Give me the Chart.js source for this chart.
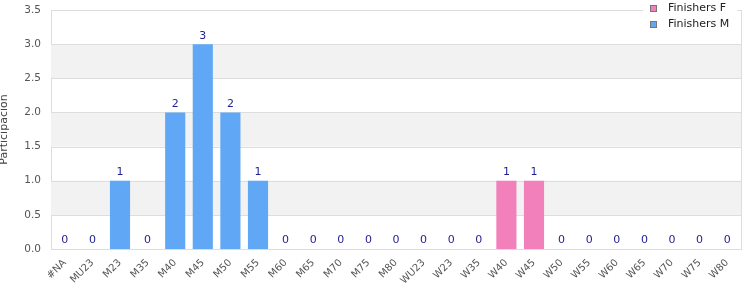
<!DOCTYPE html>
<html>
<head>
<meta charset="utf-8">
<script src="https://cdn.jsdelivr.net/npm/chart.js@4"></script>
<style>
  body { margin: 0; background: #fff; }
  #wrap { width: 750px; height: 300px; }
</style>
</head>
<body>
<div id="wrap"><canvas id="participationChart"></canvas></div>
<script>
// categories along the x axis
const categories = ["#NA", "MU23", "M23", "M35", "M40", "M45", "M50", "M55", "M60", "M65", "M70", "M75", "M80",
  "WU23", "W23", "W35", "W40", "W45", "W50", "W55", "W60", "W65", "W70", "W75", "W80"];

// finishers per category
const finishersF = [0, 0, 0, 0, 0, 0, 0, 0, 0, 0, 0, 0, 0, 0, 0, 0, 1, 1, 0, 0, 0, 0, 0, 0, 0];
const finishersM = [0, 0, 1, 0, 2, 3, 2, 1, 0, 0, 0, 0, 0, 0, 0, 0, 0, 0, 0, 0, 0, 0, 0, 0, 0];

const yTicks = [0, 0.5, 1, 1.5, 2, 2.5, 3, 3.5];

const FONT = "'DejaVu Sans', sans-serif";

// alternating grey bands behind the bars
const bandsPlugin = {
  id: "bands",
  beforeDatasetsDraw(chart) {
    const { ctx, chartArea, scales } = chart;
    const y = scales.y;
    ctx.save();
    ctx.fillStyle = "#f2f2f2";
    for (let i = 1; i < yTicks.length - 1; i += 2) {
      const top = y.getPixelForValue(yTicks[i + 1]);
      const bottom = y.getPixelForValue(yTicks[i]);
      ctx.fillRect(chartArea.left, top, chartArea.right - chartArea.left, bottom - top);
    }
    // grid lines over the bands
    ctx.strokeStyle = "#dddddd";
    ctx.lineWidth = 1;
    yTicks.forEach(function (t) {
      const py = Math.round(y.getPixelForValue(t)) + 0.5;
      ctx.beginPath();
      ctx.moveTo(chartArea.left, py);
      ctx.lineTo(chartArea.right, py);
      ctx.stroke();
    });
    ctx.beginPath();
    ctx.moveTo(Math.round(chartArea.right) + 0.5, chartArea.top);
    ctx.lineTo(Math.round(chartArea.right) + 0.5, chartArea.bottom);
    ctx.stroke();
    ctx.restore();
  },
};

// totals written above each category
const totalsPlugin = {
  id: "totals",
  afterDatasetsDraw(chart) {
    const { ctx, scales } = chart;
    ctx.save();
    ctx.font = "11px " + FONT;
    ctx.fillStyle = "#1f1f8f";
    ctx.textAlign = "center";
    ctx.textBaseline = "bottom";
    categories.forEach(function (c, i) {
      const total = finishersF[i] + finishersM[i];
      const px = scales.x.getPixelForValue(i);
      const py = scales.y.getPixelForValue(total);
      ctx.fillText(String(total), px, py - 3);
    });
    ctx.restore();
  },
};

// legend box in the top right corner
const legendPlugin = {
  id: "cornerLegend",
  afterDraw(chart) {
    const { ctx } = chart;
    const items = [["Finishers F", "#f281bb"], ["Finishers M", "#60a8f5"]];
    ctx.save();
    ctx.fillStyle = "#ffffff";
    ctx.fillRect(643, 0, 94, 34);
    ctx.font = "11px " + FONT;
    ctx.textBaseline = "middle";
    items.forEach(function (it, i) {
      const y = 8 + i * 16;
      ctx.fillStyle = it[1];
      ctx.fillRect(650, y - 3, 6, 6);
      ctx.strokeStyle = "#777";
      ctx.lineWidth = 1;
      ctx.strokeRect(650.5, y - 2.5, 6, 6);
      ctx.fillStyle = "#222";
      ctx.fillText(it[0], 668, y);
    });
    ctx.restore();
  },
};

function noEdgePadding(axis) {
  axis.paddingTop = 0;
  axis.paddingBottom = 0;
  axis.paddingLeft = 0;
  axis.paddingRight = 0;
}

new Chart(document.getElementById("participationChart"), {
  type: "bar",
  data: {
    labels: categories,
    datasets: [
      { label: "Finishers F", data: finishersF, backgroundColor: "#f281bb", barPercentage: 0.73, categoryPercentage: 1 },
      { label: "Finishers M", data: finishersM, backgroundColor: "#60a8f5", barPercentage: 0.73, categoryPercentage: 1 },
    ],
  },
  options: {
    responsive: true,
    maintainAspectRatio: false,
    animation: false,
    layout: { padding: { top: 10, right: 9, left: 0, bottom: 0 } },
    plugins: {
      legend: { display: false },
      tooltip: { enabled: false },
    },
    scales: {
      x: {
        stacked: true,
        grid: { display: false, drawTicks: false },
        border: { color: "#dddddd" },
        afterFit(axis) { axis.height = 51; noEdgePadding(axis); },
        ticks: {
          color: "#555",
          font: { family: FONT, size: 10 },
          maxRotation: 45,
          minRotation: 45,
          autoSkip: false,
          padding: 8,
        },
      },
      y: {
        stacked: true,
        min: 0,
        max: 3.5,
        afterBuildTicks(axis) {
          axis.ticks = yTicks.map(function (v) { return { value: v }; });
        },
        afterFit(axis) { axis.width = 51; noEdgePadding(axis); },
        grid: { display: false, drawTicks: false },
        border: { color: "#dddddd" },
        title: { display: true, text: "Participación", color: "#444", font: { family: FONT, size: 11 }, padding: { top: -2, bottom: 0 } },
        ticks: {
          color: "#555",
          font: { family: FONT, size: 10.5 },
          padding: 10,
          callback: function (v) { return Number(v).toFixed(1); },
        },
      },
    },
  },
  plugins: [bandsPlugin, totalsPlugin, legendPlugin],
});
</script>
</body>
</html>
